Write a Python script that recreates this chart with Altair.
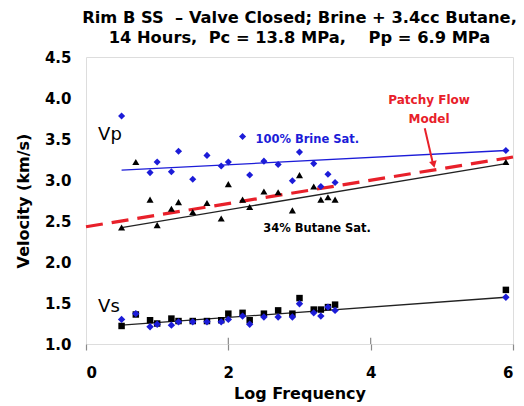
import altair as alt
import pandas as pd

# ---- data ----
vp_brine_x = [0.5, 0.9, 1.0, 1.2, 1.3, 1.5, 1.7, 1.9, 2.0, 2.2, 2.3, 2.5, 2.7, 2.9, 3.0, 3.2, 3.3, 3.4, 3.5, 5.9]
vp_brine_y = [3.78, 3.09, 3.22, 3.10, 3.35, 3.01, 3.30, 3.17, 3.22, 3.53, 3.06, 3.23, 3.19, 2.99, 3.34, 3.20, 2.92, 3.07, 2.97, 3.36]

vp_butane_x = [0.5, 0.7, 0.9, 1.0, 1.2, 1.3, 1.5, 1.7, 1.9, 2.0, 2.2, 2.3, 2.5, 2.7, 2.9, 3.0, 3.2, 3.3, 3.4, 3.5, 5.9]
vp_butane_y = [2.42, 3.22, 2.76, 2.45, 2.65, 2.73, 2.61, 2.72, 2.53, 2.95, 2.76, 2.67, 2.86, 2.85, 2.63, 3.06, 2.92, 2.76, 2.79, 2.76, 3.22]

vs_x = [0.5, 0.7, 0.9, 1.0, 1.2, 1.3, 1.5, 1.7, 1.9, 2.0, 2.2, 2.3, 2.5, 2.7, 2.9, 3.0, 3.2, 3.3, 3.4, 3.5, 5.9]
vs_butane_y = [1.22, 1.36, 1.29, 1.25, 1.31, 1.28, 1.28, 1.28, 1.29, 1.37, 1.38, 1.29, 1.37, 1.41, 1.37, 1.56, 1.42, 1.42, 1.45, 1.48, 1.66]
vs_brine_y = [1.30, 1.37, 1.21, 1.24, 1.23, 1.27, 1.27, 1.27, 1.27, 1.30, 1.34, 1.24, 1.33, 1.33, 1.33, 1.49, 1.38, 1.34, 1.45, 1.41, 1.57]

fit_x = [0.5, 5.9]
fit_brine_y = [3.12, 3.36]
fit_butane_y = [2.42, 3.20]
fit_vs_y = [1.23, 1.57]
patchy_x = [0.0, 6.0]
patchy_y = [2.43, 3.28]

arrow_from = [4.76, 3.63]
arrow_to = [4.87, 3.22]
arrow_head = [4.885, 3.19]

x_ticks = [0, 2, 4, 6]
y_ticks = [1.0, 1.5, 2.0, 2.5, 3.0, 3.5, 4.0, 4.5]
inner_ticks = [2, 4]

labels_text = ["Vp", "Vs", "100% Brine Sat.", "34% Butane Sat."]
labels_x = [0.17, 0.17, 2.38, 2.49]
labels_y = [3.49, 1.39, 3.45, 2.37]
patchy_text = ["Patchy Flow", "Model"]
patchy_text_x = [4.82, 4.82]
patchy_text_y = [3.93, 3.70]

title_lines = ["Rim B SS \u00a0\u2013 Valve Closed; Brine + 3.4cc Butane,",
               "14 Hours, \u00a0Pc = 13.8 MPa, \u00a0\u00a0\u00a0Pp = 6.9 MPa"]

BLUE = "#1c1cd8"
RED = "#e8202a"
DARK = "#222222"
GRAY = "#8a8a8a"
FONT = "DejaVu Sans"

xs = alt.Scale(domain=[0, 6], nice=False, zero=False)
ys = alt.Scale(domain=[1.0, 4.5], nice=False, zero=False)

X = alt.X("x:Q", scale=xs, axis=alt.Axis(
    values=x_ticks, format="d", title="Log Frequency", grid=False, domain=False,
    tickSize=6, tickColor=GRAY, tickWidth=1.2,
    labelFont=FONT, labelFontSize=15, labelFontWeight="bold", labelColor="black",
    labelPadding=15, titleFont=FONT, titleFontSize=16, titleFontWeight="bold",
    titleColor="black", titlePadding=5))
Y = alt.Y("y:Q", scale=ys, axis=alt.Axis(
    values=y_ticks, format=".1f", title="Velocity  (km/s)", grid=False, domain=False,
    ticks=False, labelFont=FONT, labelFontSize=15, labelFontWeight="bold",
    labelColor="black", labelPadding=15, titleFont=FONT, titleFontSize=16,
    titleFontWeight="bold", titleColor="black", titlePadding=13))


def df(xv, yv):
    return pd.DataFrame({"x": xv, "y": yv})


brine_line = alt.Chart(df(fit_x, fit_brine_y)).mark_line(color=BLUE, strokeWidth=1.3).encode(x=X, y=Y)
butane_line = alt.Chart(df(fit_x, fit_butane_y)).mark_line(color=DARK, strokeWidth=1.3).encode(x=X, y=Y)
vs_line = alt.Chart(df(fit_x, fit_vs_y)).mark_line(color=DARK, strokeWidth=1.3).encode(x=X, y=Y)
patchy_line = alt.Chart(df(patchy_x, patchy_y)).mark_line(
    color=RED, strokeWidth=3.2, strokeDash=[17, 9]).encode(x=X, y=Y)

arrow_df = pd.DataFrame({"x": [arrow_from[0]], "y": [arrow_from[1]],
                         "x2": [arrow_to[0]], "y2": [arrow_to[1]]})
arrow_line = alt.Chart(arrow_df).mark_rule(color=RED, strokeWidth=2).encode(
    x=X, y=Y, x2="x2:Q", y2="y2:Q")
arrow_tip = alt.Chart(df([arrow_head[0]], [arrow_head[1]])).mark_point(
    shape="triangle-up", filled=True, color=RED, size=60, angle=166, opacity=1).encode(x=X, y=Y)

tick_df = pd.DataFrame({"x": inner_ticks, "y": [1.0] * len(inner_ticks),
                        "y2": [1.075] * len(inner_ticks)})
inner = alt.Chart(tick_df).mark_rule(color=GRAY, strokeWidth=1.2).encode(x=X, y=Y, y2="y2:Q")

tri = alt.Chart(df(vp_butane_x, vp_butane_y)).mark_point(
    shape="triangle-up", filled=True, color="black", size=50, opacity=1).encode(x=X, y=Y)
dia = alt.Chart(df(vp_brine_x, vp_brine_y)).mark_point(
    shape="diamond", filled=True, color=BLUE, size=50, opacity=1).encode(x=X, y=Y)
sq = alt.Chart(df(vs_x, vs_butane_y)).mark_point(
    shape="square", filled=True, color="black", size=42, opacity=1).encode(x=X, y=Y)
dia_vs = alt.Chart(df(vs_x, vs_brine_y)).mark_point(
    shape="diamond", filled=True, color=BLUE, size=55, opacity=1).encode(x=X, y=Y)

lab_df = pd.DataFrame({"x": labels_x, "y": labels_y, "t": labels_text})
vpvs = alt.Chart(lab_df.iloc[:2]).mark_text(
    align="left", baseline="alphabetic", font=FONT, fontSize=18, color="black").encode(
    x=X, y=Y, text="t:N")
brine_lab = alt.Chart(lab_df.iloc[2:3]).mark_text(
    align="left", baseline="alphabetic", font=FONT, fontSize=11.5, fontWeight="bold",
    color=BLUE).encode(x=X, y=Y, text="t:N")
butane_lab = alt.Chart(lab_df.iloc[3:4]).mark_text(
    align="left", baseline="alphabetic", font=FONT, fontSize=11.5, fontWeight="bold",
    color="black").encode(x=X, y=Y, text="t:N")
patchy_lab = alt.Chart(pd.DataFrame({"x": patchy_text_x, "y": patchy_text_y, "t": patchy_text})).mark_text(
    align="center", baseline="alphabetic", font=FONT, fontSize=12, fontWeight="bold",
    color=RED).encode(x=X, y=Y, text="t:N")

chart = alt.layer(
    inner, brine_line, butane_line, vs_line, patchy_line, arrow_line, arrow_tip,
    tri, dia, sq, dia_vs, vpvs, brine_lab, butane_lab, patchy_lab
).properties(
    width=427, height=287,
    title=alt.TitleParams(text=title_lines, font=FONT, fontSize=16.3, fontWeight="bold",
                          color="black", anchor="middle", offset=4, lineHeight=20),
    autosize=alt.AutoSizeParams(type="none"),
    padding={"left": 78, "top": 49, "right": 3, "bottom": 58},
).configure_view(stroke=GRAY, strokeWidth=1.5).configure(background="white")

chart.save("out.html", embed_options={"renderer": "svg", "actions": False})
